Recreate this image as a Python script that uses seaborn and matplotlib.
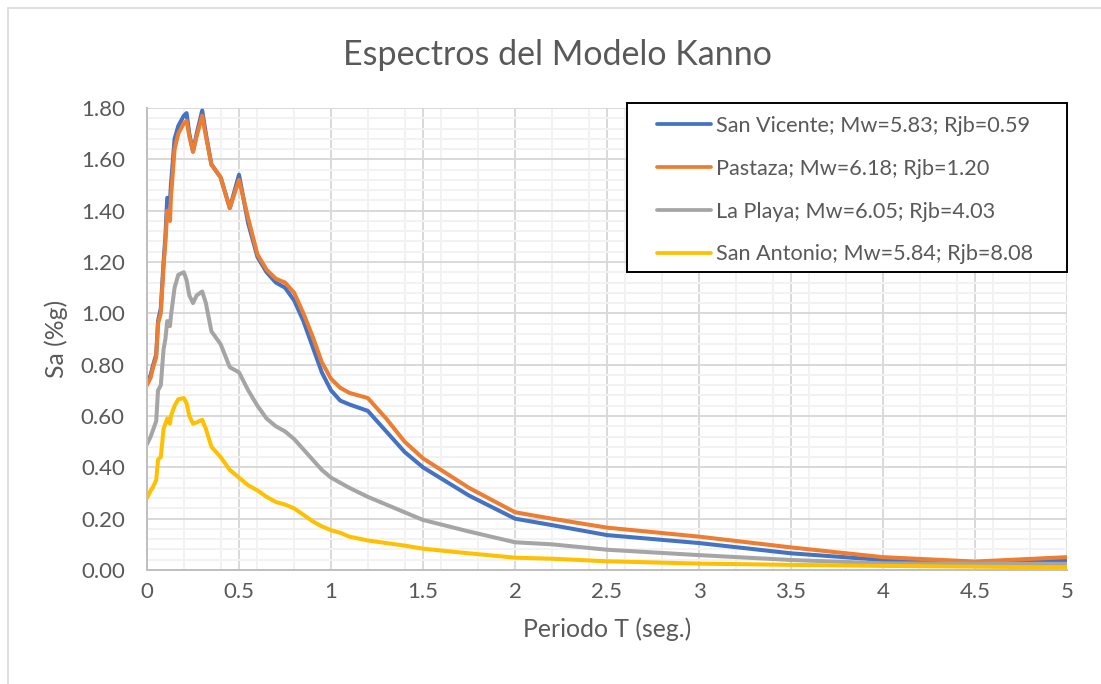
import numpy as np
import pandas as pd
import matplotlib
matplotlib.use("Agg")
import matplotlib.pyplot as plt
from matplotlib.patches import Rectangle
from matplotlib.ticker import MultipleLocator, FuncFormatter
import seaborn as sns

# --- Data ---
periods = [0, 0.02, 0.03, 0.05, 0.06, 0.075, 0.09, 0.1, 0.11, 0.125, 0.13, 0.15, 0.17,
           0.2, 0.215, 0.23, 0.25, 0.27, 0.3, 0.32, 0.35, 0.4, 0.45, 0.5, 0.55, 0.6,
           0.65, 0.7, 0.75, 0.8, 0.85, 0.9, 0.95, 1.0, 1.05, 1.1, 1.2, 1.3, 1.4, 1.5,
           1.75, 2.0, 2.2, 2.5, 3.0, 3.5, 4.0, 4.5, 5.0]

san_vicente = [0.73, 0.76, 0.79, 0.84, 0.97, 1.02, 1.20, 1.30, 1.45, 1.44, 1.50, 1.68, 1.73,
               1.77, 1.78, 1.70, 1.63, 1.70, 1.79, 1.70, 1.58, 1.53, 1.41, 1.54, 1.35, 1.22,
               1.16, 1.12, 1.10, 1.05, 0.97, 0.87, 0.77, 0.70, 0.66, 0.645, 0.62, 0.54, 0.46, 0.40,
               0.29, 0.20, 0.175, 0.136, 0.105, 0.065, 0.039, 0.029, 0.036]

pastaza = [0.72, 0.75, 0.78, 0.83, 0.96, 1.00, 1.18, 1.28, 1.40, 1.36, 1.45, 1.64, 1.70,
           1.74, 1.75, 1.69, 1.63, 1.69, 1.77, 1.69, 1.58, 1.53, 1.41, 1.52, 1.37, 1.23,
           1.17, 1.135, 1.12, 1.08, 1.00, 0.91, 0.81, 0.745, 0.71, 0.69, 0.67, 0.59, 0.50, 0.435,
           0.32, 0.225, 0.20, 0.165, 0.13, 0.088, 0.05, 0.033, 0.05]

la_playa = [0.49, 0.52, 0.54, 0.58, 0.70, 0.72, 0.86, 0.90, 0.97, 0.95, 0.99, 1.10, 1.15,
            1.16, 1.13, 1.07, 1.04, 1.07, 1.085, 1.04, 0.93, 0.88, 0.79, 0.77, 0.70, 0.64,
            0.59, 0.56, 0.54, 0.51, 0.47, 0.43, 0.39, 0.36, 0.34, 0.32, 0.285, 0.255, 0.225, 0.195,
            0.15, 0.108, 0.10, 0.079, 0.058, 0.039, 0.026, 0.024, 0.024]

san_antonio = [0.28, 0.31, 0.32, 0.35, 0.43, 0.44, 0.55, 0.57, 0.59, 0.57, 0.60, 0.64, 0.665,
               0.67, 0.65, 0.60, 0.57, 0.575, 0.585, 0.55, 0.48, 0.44, 0.39, 0.36, 0.33, 0.31,
               0.285, 0.265, 0.255, 0.24, 0.215, 0.19, 0.17, 0.155, 0.145, 0.13, 0.115, 0.105, 0.095, 0.083,
               0.065, 0.048, 0.044, 0.034, 0.025, 0.02, 0.016, 0.013, 0.01]

series_labels = ["San Vicente; Mw=5.83; Rjb=0.59",
                 "Pastaza; Mw=6.18; Rjb=1.20",
                 "La Playa; Mw=6.05; Rjb=4.03",
                 "San Antonio; Mw=5.84; Rjb=8.08"]
series_values = [san_vicente, pastaza, la_playa, san_antonio]
colors = ["#4472C4", "#ED7D31", "#A5A5A5", "#FFC000"]

# --- Style ---
sns.set_theme(style="white")
plt.rcParams['font.family'] = ['Lato', 'DejaVu Sans']
text_color = "#595959"
W, H = 1101, 684

fig = plt.figure(figsize=(W / 100, H / 100), dpi=100)
ax = fig.add_axes([147 / W, 1 - 570 / H, 920 / W, 462 / H])

# chart border (Excel-like, cropped on the right/bottom)
fig.patches.append(Rectangle((8 / W, -0.2), 1.2, 1.2 - 8 / H,
                             transform=fig.transFigure, fill=False,
                             edgecolor="#d9d9d9", linewidth=1.2))

for label, vals, col in zip(series_labels, series_values, colors):
    df = pd.DataFrame({"T": periods, "Sa": vals})
    sns.lineplot(data=df, x="T", y="Sa", ax=ax, color=col, linewidth=2.9,
                 label=label, sort=False, estimator=None)

ax.set_xlim(0, 5)
ax.set_ylim(0, 1.8)
ax.xaxis.set_major_locator(MultipleLocator(0.5))
ax.xaxis.set_minor_locator(MultipleLocator(0.2))
ax.yaxis.set_major_locator(MultipleLocator(0.2))
ax.yaxis.set_minor_locator(MultipleLocator(0.04))
ax.xaxis.set_major_formatter(FuncFormatter(lambda v, p: f"{v:g}"))
ax.yaxis.set_major_formatter(FuncFormatter(lambda v, p: f"{v:.2f}"))

ax.grid(which="minor", color="#f2f2f2", linewidth=1.4)
ax.grid(which="major", color="#d9d9d9", linewidth=1.4)
ax.set_axisbelow(True)
for s in ["top", "right"]:
    ax.spines[s].set_visible(False)
for s in ["left", "bottom"]:
    ax.spines[s].set_color("#bfbfbf")
    ax.spines[s].set_linewidth(1.4)
ax.tick_params(axis="y", which="both", length=0, labelsize=16, labelcolor=text_color, pad=16)
ax.tick_params(axis="x", which="both", length=0, labelsize=16, labelcolor=text_color, pad=9)

ax.set_xlabel("Periodo T (seg.)", fontsize=17.8, color=text_color, labelpad=11)
ax.set_ylabel("Sa (%g)", fontsize=17.8, color=text_color, labelpad=9)
fig.text(557 / W, 1 - 55 / H, "Espectros del Modelo Kanno", ha="center", va="center",
         fontsize=24.5, color=text_color)

# legend: entries without frame, box drawn separately to match Excel's padding
leg = ax.legend(loc="upper left", bbox_to_anchor=(657 / W, 1 - 116 / H),
                bbox_transform=fig.transFigure, borderaxespad=0, borderpad=0,
                frameon=False, fontsize=15.6, handlelength=2.5, handletextpad=0.23,
                labelspacing=1.05)
leg.set_zorder(6)
for t in leg.get_texts():
    t.set_color(text_color)
for h in leg.get_lines():
    h.set_linewidth(2.7)
legend_box = Rectangle((627 / W, 1 - 272 / H), 440 / W, 169 / H,
                       transform=fig.transFigure, facecolor="white",
                       edgecolor="black", linewidth=1.4, zorder=5, clip_on=False)
ax.add_patch(legend_box)

fig.savefig("out.png", dpi=100)
